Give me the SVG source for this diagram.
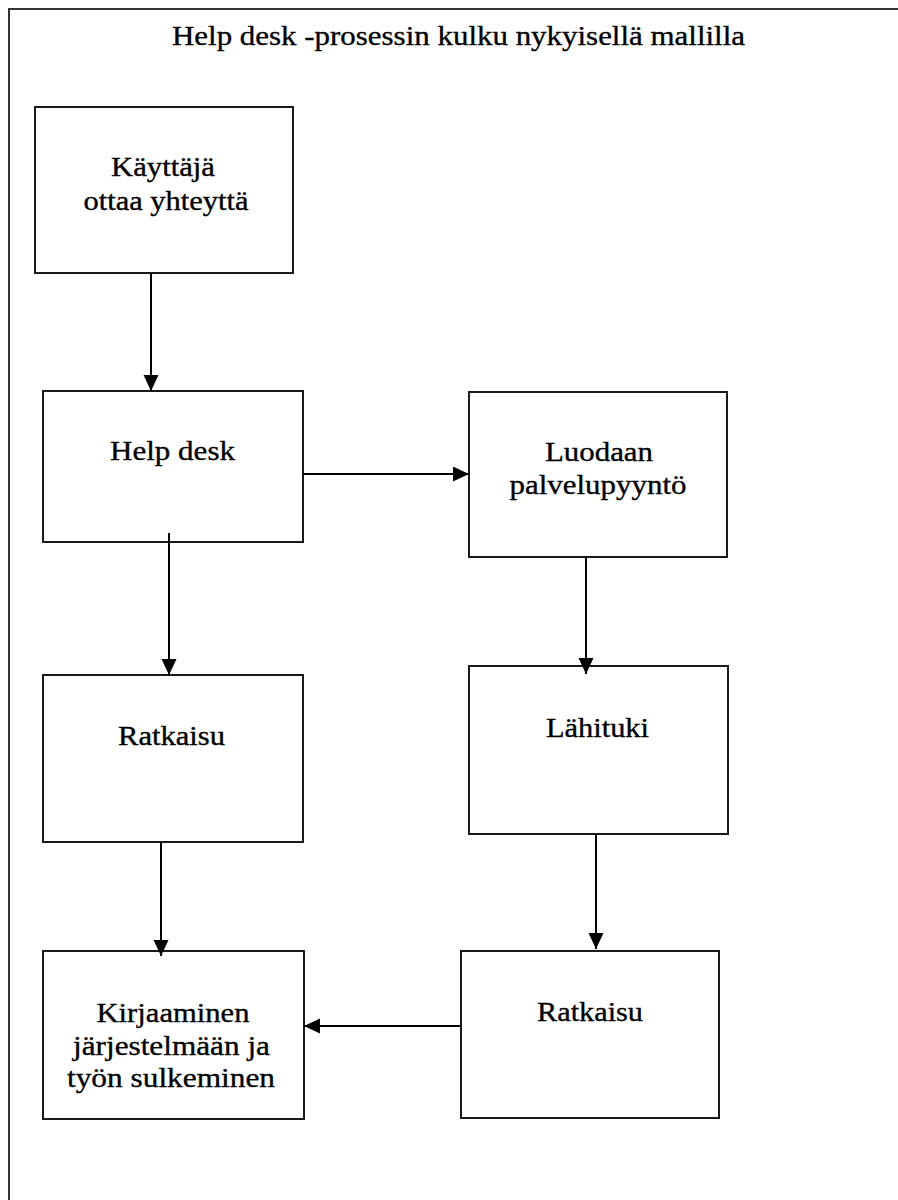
<svg xmlns="http://www.w3.org/2000/svg" width="898" height="1200" viewBox="0 0 898 1200">
  <style>
    .box { fill: #ffffff; stroke: #1a1a1a; stroke-width: 2; }
    .frame { fill: none; stroke: #333333; stroke-width: 2; }
    .lbl { font-size: 28px; fill: #000000; stroke: #000000; stroke-width: 0.35; text-anchor: middle; }
    .conn { stroke: #000000; stroke-width: 2; fill: none; marker-end: url(#arrow); }
  </style>
  <defs>
    <marker id="arrow" markerUnits="userSpaceOnUse" markerWidth="17" markerHeight="16" refX="16" refY="7.5" orient="auto">
      <path d="M0,0 L16,7.5 L0,15 Z" fill="#000000"/>
    </marker>
  </defs>
  <rect width="898" height="1200" fill="#ffffff"/>
  <rect class="frame" x="9" y="9" width="920" height="1220"/>
  <g font-family="'Liberation Serif', 'Times New Roman', Times, serif">
  <text id="title" class="lbl" x="458.5" y="45" textLength="573" lengthAdjust="spacingAndGlyphs">Help desk -prosessin kulku nykyisellä mallilla</text>

  <g id="n-kayttaja">
    <rect class="box" x="35" y="107" width="258" height="166"/>
    <text class="lbl" x="163" y="176" textLength="104" lengthAdjust="spacingAndGlyphs">Käyttäjä</text>
    <text class="lbl" x="166" y="210" textLength="165" lengthAdjust="spacingAndGlyphs">ottaa yhteyttä</text>
  </g>
  <g id="n-helpdesk">
    <rect class="box" x="43" y="391" width="260" height="151"/>
    <text class="lbl" x="172.5" y="460" textLength="125" lengthAdjust="spacingAndGlyphs">Help desk</text>
  </g>
  <g id="n-luodaan">
    <rect class="box" x="469" y="392" width="258" height="165"/>
    <text class="lbl" x="599" y="461" textLength="108" lengthAdjust="spacingAndGlyphs">Luodaan</text>
    <text class="lbl" x="598" y="494" textLength="177" lengthAdjust="spacingAndGlyphs">palvelupyyntö</text>
  </g>
  <g id="n-ratkaisu1">
    <rect class="box" x="43" y="675" width="260" height="167"/>
    <text class="lbl" x="171.5" y="745" textLength="107" lengthAdjust="spacingAndGlyphs">Ratkaisu</text>
  </g>
  <g id="n-lahituki">
    <rect class="box" x="469" y="666" width="259" height="168"/>
    <text class="lbl" x="597.5" y="737" textLength="103" lengthAdjust="spacingAndGlyphs">Lähituki</text>
  </g>
  <g id="n-kirjaaminen">
    <rect class="box" x="43" y="951" width="261" height="168"/>
    <text class="lbl" x="173" y="1022" textLength="153" lengthAdjust="spacingAndGlyphs">Kirjaaminen</text>
    <text class="lbl" x="171.5" y="1055" textLength="197" lengthAdjust="spacingAndGlyphs">järjestelmään ja</text>
    <text class="lbl" x="171" y="1087" textLength="208" lengthAdjust="spacingAndGlyphs">työn sulkeminen</text>
  </g>
  <g id="n-ratkaisu2">
    <rect class="box" x="461" y="951" width="258" height="167"/>
    <text class="lbl" x="590" y="1021" textLength="106" lengthAdjust="spacingAndGlyphs">Ratkaisu</text>
  </g>
  </g>

  <g id="connectors">
    <line class="conn" x1="151" y1="273" x2="151" y2="391"/>
    <line class="conn" x1="169" y1="533" x2="169" y2="675"/>
    <line class="conn" x1="303" y1="474" x2="469" y2="474"/>
    <line class="conn" x1="586" y1="557" x2="586" y2="674"/>
    <line class="conn" x1="161" y1="842" x2="161" y2="956"/>
    <line class="conn" x1="596" y1="834" x2="596" y2="949"/>
    <line class="conn" x1="461" y1="1026" x2="304" y2="1026"/>
  </g>
</svg>
